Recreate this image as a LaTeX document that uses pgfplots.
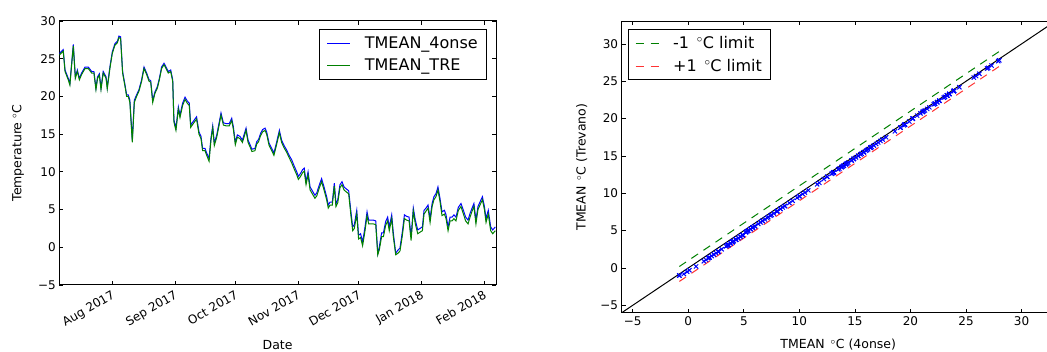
\documentclass[border=0pt]{standalone}
\usepackage{pgfplots}
\pgfplotsset{compat=1.18}
\usepackage{pgfplotstable}
\usepackage{fontspec}
\setmainfont{DejaVu Sans}
\definecolor{mplgreen}{rgb}{0,0.5,0}
\definecolor{mplred}{rgb}{1,0.2,0.2}

\pgfplotstableread{
day t4 tre
-26.2 25.7 25.5
-24.3 26.2 26.0
-23.4 23.5 23.3
-21.8 22.4 22.2
-21.0 21.7 21.5
-19.3 26.9 26.7
-18.3 22.6 22.4
-17.3 23.5 23.3
-16.3 22.4 22.2
-15.2 23.1 22.9
-13.5 23.9 23.7
-11.9 23.9 23.7
-10.2 23.3 23.1
-9.1 23.3 23.1
-8.1 21.1 20.9
-7.3 22.6 22.4
-6.4 23.0 22.8
-5.6 21.1 20.9
-4.5 23.3 23.1
-3.1 22.6 22.4
-2.5 21.2 21.0
-1.2 23.9 23.7
0 25.9 25.7
1.3 27.0 26.8
2.5 27.3 27.1
3.3 28.0 27.8
4.1 27.9 27.7
5.1 23.3 23.1
6.3 21.5 21.3
7.1 20.2 20.0
7.9 20.2 20.0
8.7 19.5 19.2
9.9 14.2 13.9
10.9 19.5 19.2
12.0 20.2 20.0
13.2 20.9 20.7
14.5 22.2 22.0
15.7 23.9 23.7
17.0 23.1 22.9
18.2 22.2 22.0
19.0 22.1 21.9
20.0 19.5 19.2
21.1 20.6 20.4
22.3 21.3 21.1
23.3 22.4 22.2
24.4 23.9 23.7
25.6 24.4 24.2
26.6 23.9 23.7
27.7 23.3 23.1
28.9 23.5 23.3
29.9 22.2 22.0
30.5 16.9 16.6
31.5 15.8 15.5
32.7 18.6 18.3
33.5 17.5 17.2
34.8 19.1 18.8
36.0 19.9 19.6
37.1 19.4 19.1
38.1 19.1 18.8
38.8 16.2 15.9
40.1 16.7 16.4
41.7 17.3 17.0
42.9 15.3 15.0
43.9 14.7 14.4
44.7 13.1 12.8
45.9 13.1 12.8
46.7 12.5 12.2
47.9 11.8 11.4
48.8 14.4 14.1
49.7 16.1 15.8
50.5 13.8 13.5
51.7 14.9 14.6
52.8 16.4 16.1
53.8 17.8 17.5
55.0 16.5 16.2
56.3 16.4 16.1
57.9 16.4 16.1
59.1 17.1 16.8
59.9 16.0 15.7
60.9 13.9 13.6
61.9 14.9 14.6
63.2 14.7 14.4
64.4 14.2 13.9
65.2 14.9 14.6
66.2 15.8 15.5
67.2 14.2 13.9
68.2 13.6 13.3
69.1 13.0 12.7
70.6 13.1 12.8
71.5 14.0 13.7
72.4 14.3 14.0
73.4 15.1 14.8
74.4 15.6 15.3
75.6 15.8 15.5
76.4 15.3 15.0
77.6 13.8 13.5
78.9 13.1 12.8
80.0 12.5 12.2
81.4 14.0 13.7
82.7 15.5 15.2
83.8 14.2 13.9
85.0 13.5 13.2
86.3 12.9 12.6
87.5 12.2 11.9
88.8 11.6 11.2
90.0 10.8 10.4
91.3 10.0 9.6
92.1 9.4 9.0
93.2 9.8 9.4
94.2 10.3 9.9
95.0 10.5 10.1
95.9 8.7 8.3
96.9 10.0 9.6
97.9 8.0 7.6
99.2 7.4 7.0
100.3 6.9 6.5
101.2 7.2 6.8
102.5 8.3 7.9
103.6 9.1 8.7
104.8 8.0 7.6
106.1 6.7 6.3
106.9 5.6 5.2
107.8 6.0 5.6
108.9 6.0 5.6
109.9 8.5 8.1
110.7 5.8 5.4
111.6 6.3 5.9
112.7 8.3 7.9
113.7 8.7 8.3
114.7 8.0 7.6
116.0 7.7 7.3
117.0 7.5 7.1
118.2 4.5 4.0
119.0 2.7 2.2
119.8 3.0 2.5
121.0 4.9 4.4
121.9 1.6 1.1
122.9 1.8 1.3
123.9 0.7 0.2
125.1 2.7 2.2
126.1 4.7 4.2
126.9 3.6 3.1
127.9 3.6 3.1
129.2 3.6 3.1
130.4 3.5 3.0
131.4 -0.8 -1.0
132.2 0.1 -0.3
133.3 1.9 1.4
134.2 1.9 1.4
135.3 3.4 2.9
136.3 4.0 3.5
137.1 2.7 2.2
138.3 4.3 3.8
139.1 1.9 1.4
140.3 -0.8 -1.0
141.3 -0.4 -0.8
142.4 -0.1 -0.5
143.6 2.1 1.6
144.6 4.3 3.8
145.7 4.1 3.6
146.9 4.0 3.5
147.9 1.4 0.9
149.0 5.2 4.8
150.0 3.6 3.1
151.2 2.3 1.8
152.3 2.5 2.0
153.5 2.7 2.2
154.3 4.9 4.4
155.3 5.2 4.8
156.3 5.6 5.2
157.3 3.8 3.3
158.3 5.8 5.4
159.2 6.7 6.3
160.2 7.1 6.7
161.2 8.0 7.6
162.2 6.5 6.1
163.2 4.7 4.2
164.4 4.9 4.4
165.2 4.3 3.8
166.2 2.7 2.2
167.2 4.0 3.5
168.2 4.0 3.5
169.1 4.3 3.8
170.1 4.0 3.5
171.3 5.3 4.9
172.6 5.8 5.4
173.8 4.9 4.4
174.9 4.0 3.5
176.1 3.6 3.1
177.1 4.5 4.0
178.1 5.2 4.8
179.0 5.8 5.4
180.0 3.6 3.1
181.0 5.4 5.0
182.0 6.0 5.6
183.2 6.7 6.3
184.2 5.4 5.0
185.0 3.8 3.3
186.1 4.9 4.4
187.3 2.7 2.2
188.3 2.3 1.8
189.6 2.7 2.2
}\tmean

\pgfplotsset{
  mplstyle/.style={
    scale only axis,
    axis line style={black, line width=1pt},
    major tick length=4pt,
    every tick/.style={black, line width=0.8pt},
    tick align=inside,
    tick pos=both,
    tick label style={font=\fontsize{12}{14}\selectfont},
    label style={font=\fontsize{12.5}{15}\selectfont},
    legend style={draw=black, line width=1pt, font=\fontsize{16}{19}\selectfont,
      cells={anchor=west}, inner xsep=7pt, inner ysep=5pt, row sep=5pt,
      nodes={inner sep=2pt},
      /tikz/every odd column/.append style={column sep=12pt}},
    legend image code/.code={\draw[#1, solid] (0pt,0pt) -- (23pt,0pt);},
  },
  dashimg/.style={legend image code/.code={\draw[##1, dash pattern=on 8pt off 7pt] (0pt,0pt) -- (23pt,0pt);}},
}

\begin{document}
\begin{tikzpicture}
\begin{axis}[mplstyle,
  at={(59.3pt,67pt)}, anchor=south west,
  width=436.7pt, height=264pt,
  xmin=-26.24, xmax=189.93, ymin=-5, ymax=30,
  xtick={0,31,61,92,122,153,184},
  xticklabels={Aug 2017,Sep 2017,Oct 2017,Nov 2017,Dec 2017,Jan 2018,Feb 2018},
  x tick label style={rotate=30, anchor=north east},
  ytick={-5,0,5,10,15,20,25,30},
  yticklabels={−5,0,5,10,15,20,25,30},
  xlabel={Date},
  xlabel style={at={(axis description cs:0.5,-0.227)}, anchor=center},
  ylabel={Temperature $^\circ$C},
  ylabel style={at={(axis description cs:-0.0946,0.5)}, anchor=center},
  legend style={at={(0.980,0.969)}, anchor=north east},
]
\addplot[blue, line width=1pt] table[x=day,y=t4]{\tmean};
\addlegendentry{TMEAN\_4onse}
\addplot[mplgreen, line width=1pt] table[x=day,y=tre]{\tmean};
\addlegendentry{TMEAN\_TRE}
\end{axis}

\begin{axis}[mplstyle,
  at={(621.6pt,39.2pt)}, anchor=south west,
  width=433.3pt, height=291.3pt,
  xmin=-6, xmax=33, ymin=-6, ymax=33,
  xtick={-5,0,5,10,15,20,25,30},
  xticklabels={−5,0,5,10,15,20,25,30},
  ytick={-5,0,5,10,15,20,25,30},
  yticklabels={−5,0,5,10,15,20,25,30},
  xlabel={TMEAN \,$^\circ$C (4onse)},
  xlabel style={at={(axis description cs:0.5,-0.1105)}, anchor=center},
  ylabel={TMEAN \,$^\circ$C (Trevano)},
  ylabel style={at={(axis description cs:-0.092,0.5)}, anchor=center},
  legend style={at={(0.014,0.974)}, anchor=north west},
  dashimg,
]
\addplot[only marks, mark=x, blue, mark size=3pt, mark options={line width=1pt}, forget plot] table[x=t4,y=tre]{\tmean};
\addplot[black, line width=1pt, forget plot] coordinates {(-6,-6) (33,33)};
\addplot[mplgreen, line width=1pt, dash pattern=on 8pt off 6.5pt] coordinates {(-0.8,0.2) (28.0,29.0)};
\addlegendentry{-1 \,$^\circ$C limit}
\addplot[mplred, line width=1pt, dash pattern=on 8pt off 6.5pt] coordinates {(-0.8,-1.8) (28.0,27.0)};
\addlegendentry{+1 \,$^\circ$C limit}
\end{axis}
\pgfresetboundingbox
\useasboundingbox (0pt,0pt) rectangle (1047pt,352pt);
\end{tikzpicture}
\end{document}
